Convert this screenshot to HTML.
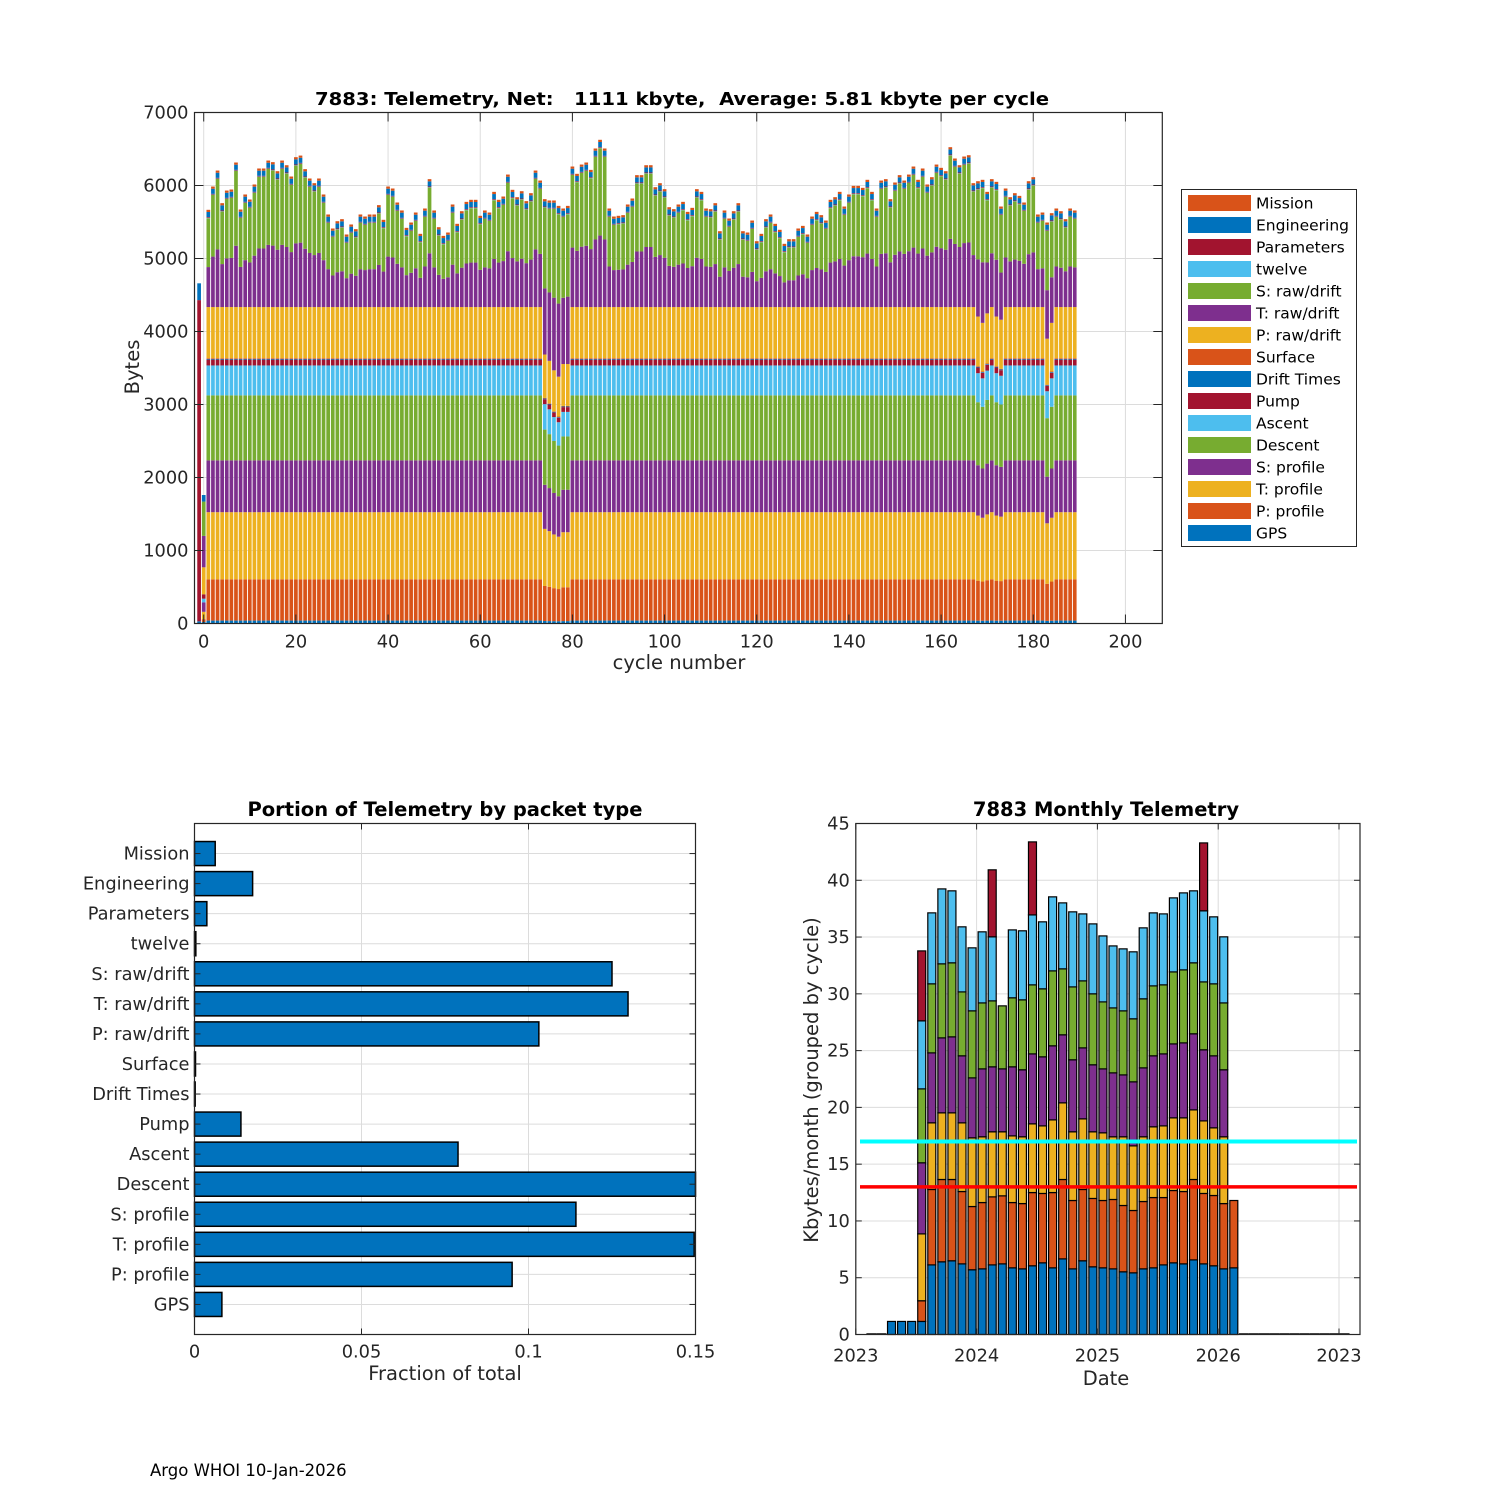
<!DOCTYPE html>
<html><head><meta charset="utf-8"><style>
html,body{margin:0;padding:0;background:#fff;}
svg{display:block;font-family:"DejaVu Sans","Liberation Sans",sans-serif;}
</style></head><body>
<svg id="fig" width="1500" height="1500" viewBox="0 0 1500 1500" xmlns="http://www.w3.org/2000/svg">
<rect x="0" y="0" width="1500" height="1500" fill="#fff"/>
<g id="top"></g>
<g id="bl"></g>
<g id="br"></g>
<text x="150" y="1476" font-size="16.5" fill="#000">Argo WHOI 10-Jan-2026</text>
</svg>
<script>
// ---------- TOP CHART DATA ----------
const layerNames = ["GPS","P: profile","T: profile","S: profile","Descent","Ascent","Pump","Drift Times","Surface","P: raw/drift","T: raw/drift","S: raw/drift","twelve","Parameters","Engineering","Mission"];
const layerColors = ["#0072BD","#D95319","#EDB120","#7E2F8E","#77AC30","#4DBEEE","#A2142F","#0072BD","#D95319","#EDB120","#7E2F8E","#77AC30","#4DBEEE","#A2142F","#0072BD","#D95319"];
// typical bytes for the fixed lower layers (GPS .. P raw/drift)
const lowerTypical = [40,565,920,710,890,410,80,10,10,700];
// typical bytes for the small top layers (twelve, Parameters, Engineering, Mission)
const topTypical = [5,10,70,30];
const tRawShare = 0.45;
// cycle totals (bytes) for cycles 1..189
const cycleTotals = [5667,5986,6205,5758,5931,5945,6315,5671,5877,5808,6014,6233,6233,6342,6320,6196,6342,6278,6123,6388,6410,6224,6096,6032,6096,5877,5603,5411,5511,5539,5329,5466,5402,5603,5575,5603,5603,5731,5530,
5986,5959,5767,5658,5420,5493,5630,5338,5685,6087,5658,5429,5310,5356,5740,5475,5648,5776,5804,5804,5585,5658,5630,5913,5804,5849,6150,5941,5840,5922,5786,5895,6205,6068,5813,5795,5795,5721,5685,5721,6260,6160,6287,6315,6214,6507,6626,6507,5685,5575,5585,5594,5740,5822,6142,
6142,6278,6278,5977,6032,5950,5703,5676,5740,5776,5639,5694,5950,5913,5685,5676,5758,5374,5658,5548,5648,5758,5374,5356,5520,5237,5338,5539,5603,5475,5393,5201,5265,5265,5411,5447,5329,5575,5639,5594,5520,5804,5840,5913,5712,5877,5995,5995,5968,6078,5913,5685,6068,6087,5813,6041,6142,6068,6150,6260,6078,6233,6014,6114,6287,6242,6196,6525,6370,6278,6397,6415,6032,6059,6078,5913,6087,6050,5712,5959,5840,5895,5858,5767,6059,6114,5603,5630,5493,5621,5685,5648,5539,5685,5658];
// cycles where lower-stack packets were smaller
const shrinkCycles = [74,75,76,77,78,79,168,169,170,172,173,183,184];
const shrinkFactors = [0.85,0.83,0.80,0.78,0.82,0.82,0.97,0.95,0.98,0.97,0.96,0.90,0.95];
// first two special cycles (-1 and 0): full layer values
const specialCycles = [-1,0];
const specialMinus1 = [30,0,0,0,0,0,4400,0,0,0,0,0,0,0,230,0];
const specialZero = [20,40,100,130,0,50,60,0,0,370,430,470,0,0,90,0];
const yTicksTop = [0,1000,2000,3000,4000,5000,6000,7000];
const xTicksTop = [0,20,40,60,80,100,120,140,160,180,200];

// ---------- BOTTOM LEFT DATA ----------
const packetNames = ["Mission","Engineering","Parameters","twelve","S: raw/drift","T: raw/drift","P: raw/drift","Surface","Drift Times","Pump","Ascent","Descent","S: profile","T: profile","P: profile","GPS"];
const packetFractions = [0.0062,0.0174,0.0037,0.0004,0.125,0.1298,0.1031,0.0003,0.0002,0.0139,0.0789,0.156,0.1142,0.1496,0.0951,0.0082];
const xTicksBL = [0,0.05,0.1,0.15];
const xTickLabelsBL = ["0","0.05","0.1","0.15"];

// ---------- BOTTOM RIGHT DATA ----------
const monthIdx = [1,2,3,4,5,6,7,8,9,10,11,12,13,14,15,16,17,18,19,20,21,22,23,24,25,26,27,28,29,30,31,32,33,34,35,36,37,38,39,40,41,42,43,44,45,46,47,48];
const segBlue   = [0,0,1.15,1.15,1.15,1.15,6.13,6.40,6.49,6.22,5.70,5.78,6.13,6.22,5.87,5.78,6.05,6.31,5.87,6.66,5.78,6.49,5.96,5.87,5.78,5.52,5.43,5.78,5.87,6.13,6.31,6.22,6.57,6.22,6.05,5.78,5.87,0,0,0,0,0,0,0,0,0,0,0];
const segOrange = [0,0,0,0,0,1.82,6.64,7.25,7.16,6.37,5.57,5.84,5.99,5.99,5.75,5.75,6.45,6.11,6.63,6.99,6.02,6.28,6.02,5.93,6.11,5.84,5.49,5.93,6.19,5.93,6.37,6.37,7.08,6.20,6.19,5.75,5.93,0,0,0,0,0,0,0,0,0,0,0];
const segYellow = [0,0,0,0,0,5.89,5.87,5.87,5.87,6.05,6.05,5.79,5.73,5.64,5.87,5.88,6.05,5.95,6.40,6.75,6.05,6.22,5.87,5.96,5.52,6.05,5.69,5.70,6.23,6.31,6.40,6.49,6.13,6.39,5.96,5.88,0,0,0,0,0,0,0,0,0,0,0,0];
const segPurple = [0,0,0,0,0,6.26,6.16,6.60,6.69,5.90,5.28,5.98,5.72,5.54,6.08,5.90,6.16,6.08,6.52,5.99,6.34,6.25,5.90,5.63,5.63,5.45,5.64,6.07,6.25,6.34,6.51,6.60,6.70,6.26,6.34,5.90,0,0,0,0,0,0,0,0,0,0,0,0];
const segGreen  = [0,0,0,0,0,6.51,6.08,6.52,6.52,5.63,5.90,5.81,5.81,5.55,6.08,6.16,6.08,5.99,6.60,5.81,6.42,5.90,6.25,5.90,5.72,5.64,5.55,6.08,6.16,6.08,6.34,6.43,6.25,5.98,6.34,5.89,0,0,0,0,0,0,0,0,0,0,0,0];
const segLBlue  = [0,0,0,0,0,5.99,6.25,6.60,6.34,5.73,5.55,6.26,5.64,0,5.98,6.08,6.16,5.90,6.52,5.81,6.61,5.90,6.16,5.81,5.46,5.46,5.90,6.25,6.43,6.25,6.52,6.78,6.34,6.26,5.90,5.82,0,0,0,0,0,0,0,0,0,0,0,0];
const segDRed   = [0,0,0,0,0,6.16,0,0,0,0,0,0,5.90,0,0,0,6.43,0,0,0,0,0,0,0,0,0,0,0,0,0,0,0,0,5.98,0,0,0,0,0,0,0,0,0,0,0,0,0,0];
const segColors = ["#0072BD","#D95319","#EDB120","#7E2F8E","#77AC30","#4DBEEE","#A2142F"];
const refCyan = 17;
const refRed = 13;
const yTicksBR = [0,5,10,15,20,25,30,35,40,45];
const xTicksBRYears = [0,1,2,3,4];
const xTickLabelsBR = ["2023","2024","2025","2026","2023"];

const NS="http://www.w3.org/2000/svg";
function mk(parent,tag,attrs,text){const e=document.createElementNS(NS,tag);for(const k in attrs)e.setAttribute(k,attrs[k]);if(text!==undefined)e.textContent=text;parent.appendChild(e);return e;}
const AX="#262626", GRID="#dcdcdc";
const TF=17.8, LF=19.5, TTF=19.5;

// ================= TOP CHART =================
(function(){
  const g=document.getElementById('top');
  const L=194.5,R=1162.3,T=112.5,B=623.5;
  const xmin=-2,xmax=208,ymin=0,ymax=7000;
  const xs=v=>L+(v-xmin)/(xmax-xmin)*(R-L);
  const ys=v=>B-(v-ymin)/(ymax-ymin)*(B-T);
  xTicksTop.forEach(t=>{const l=mk(g,'line',{x1:xs(t),x2:xs(t),y1:T,y2:B,stroke:GRID,'stroke-width':1});});
  yTicksTop.forEach(t=>{const l=mk(g,'line',{x1:L,x2:R,y1:ys(t),y2:ys(t),stroke:GRID,'stroke-width':1});});
  const bw=(R-L)/(xmax-xmin)*0.8;
  function drawStack(c,vals){
    let acc=0;
    vals.forEach((v,i)=>{ if(v<=0)return;
      const r=mk(g,'rect',{x:xs(c)-bw/2,y:ys(acc+v),width:bw,height:ys(acc)-ys(acc+v),fill:layerColors[i]});
      
      
      acc+=v;});
  }
  drawStack(specialCycles[0],specialMinus1);
  drawStack(specialCycles[1],specialZero);
  cycleTotals.forEach((tot,i)=>{
    const c=i+1;
    const si=shrinkCycles.indexOf(c); const f=si>=0?shrinkFactors[si]:1;
    const lower=lowerTypical.map(v=>v*f);
    const lowSum=lower.reduce((a,b)=>a+b,0);
    const topSum=topTypical.reduce((a,b)=>a+b,0);
    const rem=Math.max(0,tot-lowSum-topSum);
    drawStack(c,lower.concat([rem*tRawShare,rem*(1-tRawShare)],topTypical));
  });
  mk(g,'rect',{x:L,y:T,width:R-L,height:B-T,fill:'none',stroke:AX,'stroke-width':1.2});
  xTicksTop.forEach(t=>{mk(g,'line',{x1:xs(t),x2:xs(t),y1:B,y2:B-9,stroke:AX});mk(g,'line',{x1:xs(t),x2:xs(t),y1:T,y2:T+9,stroke:AX});
    const tx=mk(g,'text',{x:xs(t),y:B+24,'text-anchor':'middle','font-size':TF,fill:AX},String(t));});
  yTicksTop.forEach(t=>{mk(g,'line',{x1:L,x2:L+9,y1:ys(t),y2:ys(t),stroke:AX});mk(g,'line',{x1:R,x2:R-9,y1:ys(t),y2:ys(t),stroke:AX});
    const tx=mk(g,'text',{x:L-6,y:ys(t)+6,'text-anchor':'end','font-size':TF,fill:AX},String(t));});
  const ti=mk(g,'text',{x:682,y:105,'text-anchor':'middle','font-size':18,'font-weight':'bold',fill:'#000',textLength:734,lengthAdjust:'spacingAndGlyphs'},"7883: Telemetry, Net:   1111 kbyte,  Average: 5.81 kbyte per cycle");
  
  ti.setAttribute('xml:space','preserve');ti.style.whiteSpace='pre';
  const xl=mk(g,'text',{x:679,y:669,'text-anchor':'middle','font-size':LF,fill:AX},"cycle number");
  
  const yl=mk(g,'text',{x:0,y:0,'text-anchor':'middle','font-size':LF,fill:AX,transform:'translate(139,367) rotate(-90)'},"Bytes");
  
  const lg=mk(g,'g',{});
  
  mk(lg,'rect',{x:1181.5,y:189.5,width:175,height:357,fill:'#fff',stroke:AX,'stroke-width':1});
  for(let k=0;k<16;k++){
    const idx=15-k; const y=203+22*k;
    const e=mk(lg,'g',{});
    
    
    mk(e,'rect',{x:1188,y:y-8,width:63,height:16,fill:layerColors[idx]});
    mk(e,'text',{x:1256,y:y+5.5,'font-size':15.5,fill:'#000'},layerNames[idx]);
  }
})();

// ================= BOTTOM LEFT =================
(function(){
  const g=document.getElementById('bl');
  const L=194.5,R=695.5,T=823.5,B=1334.5;
  const xs=v=>L+v/0.15*(R-L);
  const n=packetNames.length;
  const ys=i=>T+(i+1)/(n+1)*(B-T);
  xTicksBL.forEach(t=>mk(g,'line',{x1:xs(t),x2:xs(t),y1:T,y2:B,stroke:GRID}));
  packetNames.forEach((nm,i)=>mk(g,'line',{x1:L,x2:R,y1:ys(i),y2:ys(i),stroke:GRID}));
  const bh=(B-T)/(n+1)*0.8;
  packetFractions.forEach((v,i)=>{
    const w=Math.min(xs(v),R)-L;
    const r=mk(g,'rect',{x:L,y:ys(i)-bh/2,width:Math.max(w,0.5),height:bh,fill:'#0072BD',stroke:'#000','stroke-width':1.5});
    
    
  });
  mk(g,'rect',{x:L,y:T,width:R-L,height:B-T,fill:'none',stroke:AX,'stroke-width':1.2});
  xTicksBL.forEach((t,i)=>{mk(g,'line',{x1:xs(t),x2:xs(t),y1:B,y2:B-6,stroke:AX});mk(g,'line',{x1:xs(t),x2:xs(t),y1:T,y2:T+6,stroke:AX});
    const tx=mk(g,'text',{x:xs(t),y:B+23,'text-anchor':'middle','font-size':TF,fill:AX},xTickLabelsBL[i]);});
  packetNames.forEach((nm,i)=>{mk(g,'line',{x1:L,x2:L+6,y1:ys(i),y2:ys(i),stroke:AX});mk(g,'line',{x1:R,x2:R-6,y1:ys(i),y2:ys(i),stroke:AX});
    const tx=mk(g,'text',{x:L-5,y:ys(i)+6,'text-anchor':'end','font-size':TF,fill:AX},nm);});
  const ti=mk(g,'text',{x:445,y:816,'text-anchor':'middle','font-size':TTF,'font-weight':'bold',fill:'#000'},"Portion of Telemetry by packet type");
  
  const xl=mk(g,'text',{x:445,y:1380,'text-anchor':'middle','font-size':LF,fill:AX},"Fraction of total");
  
})();

// ================= BOTTOM RIGHT =================
(function(){
  const g=document.getElementById('br');
  const L=855.8,R=1360,T=823.5,B=1334.5;
  const yrPx=120.8;
  const xs=yr=>L+yr*yrPx;
  const ys=v=>B-v/45*(B-T);
  xTicksBRYears.forEach(t=>mk(g,'line',{x1:xs(t),x2:xs(t),y1:T,y2:B,stroke:GRID}));
  yTicksBR.forEach(t=>mk(g,'line',{x1:L,x2:R,y1:ys(t),y2:ys(t),stroke:GRID}));
  const segs=[segBlue,segOrange,segYellow,segPurple,segGreen,segLBlue,segDRed];
  const bw=8;
  monthIdx.forEach((m,i)=>{
    const cx=xs((m+0.55)/12);
    let acc=0; let drew=false;
    segs.forEach((s,k)=>{const v=s[i]; if(v<=0)return; drew=true;
      const r=mk(g,'rect',{x:cx-bw/2,y:ys(acc+v),width:bw,height:ys(acc)-ys(acc+v),fill:segColors[k],stroke:'#000','stroke-width':1.2});
      
      
      acc+=v;});
    if(!drew){const z=mk(g,'line',{x1:cx-bw/2-1,x2:cx+bw/2+1,y1:B-0.5,y2:B-0.5,stroke:'#000','stroke-width':1.5});
      }
  });
  const c=mk(g,'line',{x1:860,x2:R-3,y1:ys(refCyan),y2:ys(refCyan),stroke:'#00FFFF','stroke-width':4});
  
  const r=mk(g,'line',{x1:860,x2:R-3,y1:ys(refRed),y2:ys(refRed),stroke:'#FF0000','stroke-width':3.5});
  
  mk(g,'rect',{x:L,y:T,width:R-L,height:B-T,fill:'none',stroke:AX,'stroke-width':1.2});
  xTicksBRYears.forEach((t,i)=>{mk(g,'line',{x1:xs(t),x2:xs(t),y1:B,y2:B-6,stroke:AX});mk(g,'line',{x1:xs(t),x2:xs(t),y1:T,y2:T+6,stroke:AX});
    const tx=mk(g,'text',{x:xs(t),y:B+27,'text-anchor':'middle','font-size':TF,fill:AX},xTickLabelsBR[i]);});
  yTicksBR.forEach(t=>{mk(g,'line',{x1:L,x2:L+6,y1:ys(t),y2:ys(t),stroke:AX});mk(g,'line',{x1:R,x2:R-6,y1:ys(t),y2:ys(t),stroke:AX});
    const tx=mk(g,'text',{x:L-6,y:ys(t)+6,'text-anchor':'end','font-size':TF,fill:AX},String(t));});
  const ti=mk(g,'text',{x:1106,y:816,'text-anchor':'middle','font-size':TTF,'font-weight':'bold',fill:'#000'},"7883 Monthly Telemetry");
  
  const xl=mk(g,'text',{x:1106,y:1385,'text-anchor':'middle','font-size':LF,fill:AX},"Date");
  
  const yl=mk(g,'text',{x:0,y:0,'text-anchor':'middle','font-size':LF,fill:AX,transform:'translate(818,1080) rotate(-90)'},"Kbytes/month (grouped by cycle)");
  
})();
</script>
</body></html>
